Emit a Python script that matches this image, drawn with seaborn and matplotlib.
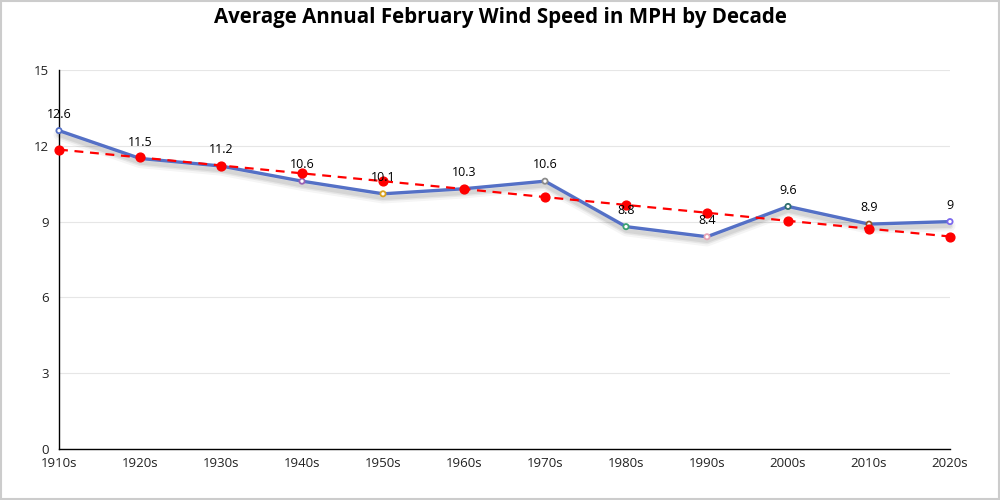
import numpy as np
import pandas as pd
import matplotlib.pyplot as plt
import matplotlib.patheffects as pe
import seaborn as sns

decades = ["1910s", "1920s", "1930s", "1940s", "1950s", "1960s",
           "1970s", "1980s", "1990s", "2000s", "2010s", "2020s"]
wind_speed = [12.6, 11.5, 11.2, 10.6, 10.1, 10.3, 10.6, 8.8, 8.4, 9.6, 8.9, 9]
trend = [11.85, 11.54, 11.22, 10.91, 10.60, 10.29, 9.97, 9.66, 9.35, 9.03, 8.72, 8.41]
marker_colors = ["#5470c6", "#91cc75", "#fac858", "#9a60b4", "#d9a21f", "#73c0de",
                 "#8a8a8a", "#3ba272", "#e7a3b6", "#2f6f6f", "#8b5a2b", "#7b68ee"]

df = pd.DataFrame({"decade": decades, "x": range(len(decades)),
                   "wind": wind_speed, "trend": trend})

sns.set_style("white")
plt.rcParams['font.family'] = ['Open Sans', 'DejaVu Sans']

fig = plt.figure(figsize=(10, 5), dpi=100)
ax = fig.add_axes([0.059, 0.102, 0.891, 0.758])

# soft blurred-looking shadow: a few stacked faint strokes
shadow = [pe.SimpleLineShadow(offset=(0, -3), shadow_color='black', alpha=0.04, linewidth=8),
          pe.SimpleLineShadow(offset=(0, -3), shadow_color='black', alpha=0.06, linewidth=5),
          pe.SimpleLineShadow(offset=(0, -3), shadow_color='black', alpha=0.07, linewidth=3),
          pe.Normal()]

sns.lineplot(data=df, x="x", y="wind", ax=ax, color="#5470c6", linewidth=2.4,
             path_effects=shadow, zorder=3, clip_on=False)
ax.scatter(df["x"], df["wind"], s=14, facecolor="white", edgecolor=marker_colors,
           linewidth=1.3, zorder=5, clip_on=False)

sns.lineplot(data=df, x="x", y="trend", ax=ax, color="red", linewidth=1.6,
             linestyle=(0, (4, 3)), zorder=4, clip_on=False)
ax.scatter(df["x"], df["trend"], s=40, color="red", zorder=6, clip_on=False)

for xi, v in zip(df["x"], df["wind"]):
    ax.annotate(f"{v:g}", (xi, v), xytext=(0, 7), textcoords="offset points",
                ha="center", va="bottom", fontsize=9, color="black", zorder=7)

ax.set_xlim(0, len(decades) - 1)
ax.set_ylim(0, 15)
ax.set_yticks([0, 3, 6, 9, 12, 15])
ax.set_xticks(df["x"])
ax.set_xticklabels(decades)
ax.tick_params(axis="both", labelsize=9.5, colors="#222222", length=0)
ax.tick_params(axis="y", pad=7)
ax.tick_params(axis="x", pad=6)
ax.grid(axis="y", color="#e6e6e6", linewidth=0.8)
ax.set_axisbelow(True)
for s in ["top", "right"]:
    ax.spines[s].set_visible(False)
ax.spines["left"].set_color("black")
ax.spines["bottom"].set_color("black")
ax.spines["left"].set_linewidth(1)
ax.spines["bottom"].set_linewidth(1)
ax.set_xlabel("")
ax.set_ylabel("")

fig.text(0.5, 0.965, "Average Annual February Wind Speed in MPH by Decade",
         ha="center", va="center", fontsize=14.8, fontweight="bold", color="black")

fig.patches.append(plt.Rectangle((0.001, 0.002), 0.998, 0.996, transform=fig.transFigure,
                                 fill=False, edgecolor="#cccccc", linewidth=1.5))

fig.savefig("out.png", dpi=100)
